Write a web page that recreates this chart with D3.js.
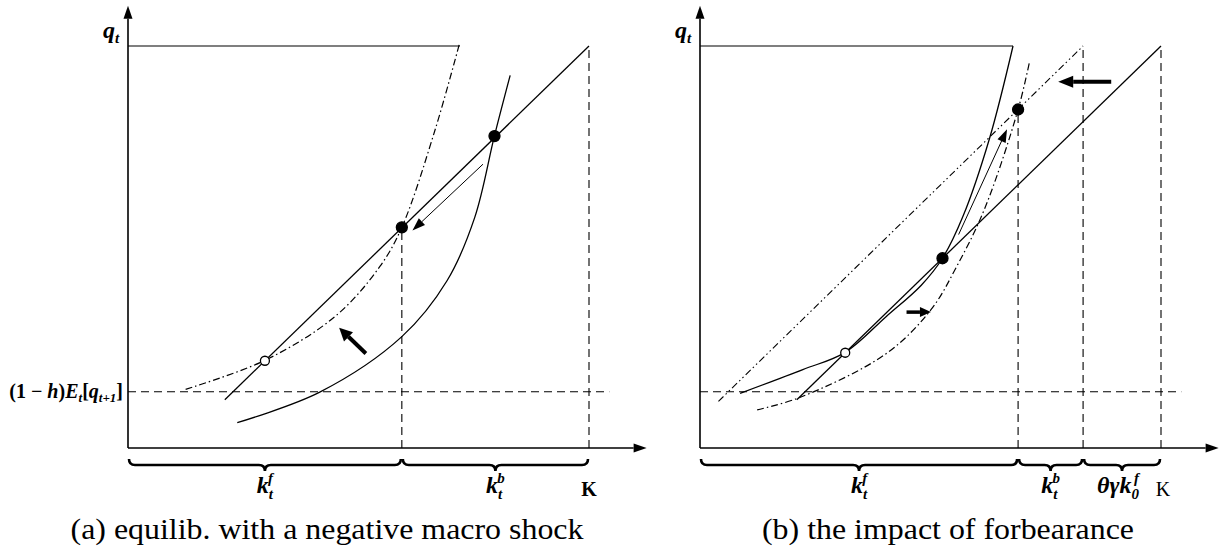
<!DOCTYPE html>
<html>
<head>
<meta charset="utf-8">
<script src="https://cdn.jsdelivr.net/npm/d3@7"></script>
<style>
  body { margin: 0; background: #fff; }
  text { font-family: "Liberation Serif", "Times New Roman", Times, "DejaVu Serif", serif; }
</style>
</head>
<body>
<div id="container"></div>
<script>
// schematic units: capital 0..K (K = 100), price q 0..qTop (qTop = 100)
const K = 100, qTop = 100, xEnd = 112.5, yEnd = 110;
const qFloor = 14;            // (1-h) E_t[q_{t+1}]
const floorEnd = 104.4;       // where the dashed floor line stops

// panel (a): equilibrium with a negative macro shock
const topLineA = [[0, 100], [72, 100]];
const shiftedA = [[12.5, 14.6], [29.7, 21.8], [45.1, 32.9], [54.6, 45.1], [59.4, 54.9], [66.6, 79.1], [72, 101]];
const demandA = [[21, 12], [100, 100]];
const supplyA = [[23.7, 6.3], [41.6, 13.9], [59.4, 27.7], [69.2, 41.6], [75.2, 57.3], [79.5, 77.7], [82.9, 92.7]];
const openA = [[29.7, 21.7]];
const eqA = [[59.4, 54.9], [79.5, 77.6]];
const thinArrowA = [[77.0, 70.6], [61.7, 54.1]];
const thickArrowA = [[51.6, 23.5], [45.8, 29.9]];
const kfA = 59.4;
const bracesA = [[0, kfA], [kfA, K]];

// panel (b): the impact of forbearance
const topLineB = [[0, 100], [67.9, 100]];
const supplyB = [[8.7, 13.6], [22.3, 19.5], [31.5, 23.8], [40.3, 32.6], [48, 40.5], [52.6, 47.2], [57, 57.5], [62.8, 77], [67.9, 100]];
const demandB = [[21, 12], [100, 100]];
const forbearB = [[4, 11.6], [83.1, 100]];
const shiftedB = [[12.4, 9.5], [21.5, 12.5], [40.3, 23.4], [50.1, 34.4], [55.7, 45.2], [61.7, 59.4], [69, 84.2], [71.5, 96.2]];
const openB = [[31.5, 23.7]];
const eqB = [[52.6, 47.2], [69, 84.2]];
const thinArrowB = [[56.1, 53.1], [66.6, 79.3]];
const smallArrowB = [[44.8, 33.8], [50.1, 33.8]];
const bigArrowB = [[89.2, 91.1], [77.7, 91.1]];
const kfB = 69, kbB = 83.1;
const bracesB = [[0, kfB], [kfB, kbB], [kbB, K]];

const width = 1228, height = 550;
const svg = d3.select("#container").append("svg")
    .attr("width", width)
    .attr("height", height)
    .style("background", "#fff");

const x = d3.scaleLinear().domain([0, 100]).range([0, 461]);
const y = d3.scaleLinear().domain([0, 100]).range([402, 0]);

const smooth = d3.line().x(d => x(d[0])).y(d => y(d[1])).curve(d3.curveCatmullRom.alpha(0.5));
const straight = d3.line().x(d => x(d[0])).y(d => y(d[1]));

function path(g, pts, dash, sw, curved) {
    g.append("path")
        .attr("d", (curved ? smooth : straight)(pts))
        .attr("fill", "none")
        .attr("stroke", "#000")
        .attr("stroke-width", sw || 1.2)
        .attr("stroke-dasharray", dash || null);
}

// line with a filled triangular head at the second point (pixel space)
function arrow(g, x1, y1, x2, y2, sw, headLen, headW) {
    const a = Math.atan2(y2 - y1, x2 - x1);
    const bx = x2 - headLen * Math.cos(a), by = y2 - headLen * Math.sin(a);
    g.append("line")
        .attr("x1", x1).attr("y1", y1).attr("x2", bx).attr("y2", by)
        .attr("stroke", "#000").attr("stroke-width", sw);
    const px = -Math.sin(a) * headW / 2, py = Math.cos(a) * headW / 2;
    g.append("path")
        .attr("d", `M${x2},${y2}L${bx + px},${by + py}L${bx - px},${by - py}Z`)
        .attr("fill", "#000");
}

function dataArrow(g, pts, sw, headLen, headW) {
    arrow(g, x(pts[0][0]), y(pts[0][1]), x(pts[1][0]), y(pts[1][1]), sw, headLen, headW);
}

function brace(g, u1, u2) {
    const x1 = x(u1) + 1, x2 = x(u2) - 1, yb = y(0) + 17, h = 6;
    const m = (x1 + x2) / 2;
    g.append("path")
        .attr("d", `M${x1},${yb - h}Q${x1},${yb} ${x1 + h},${yb}L${m - h},${yb}` +
            `Q${m},${yb} ${m},${yb + h}Q${m},${yb} ${m + h},${yb}L${x2 - h},${yb}` +
            `Q${x2},${yb} ${x2},${yb - h}`)
        .attr("fill", "none")
        .attr("stroke", "#000")
        .attr("stroke-width", 2.6);
}

// base symbol with stacked subscript / superscript
function scripted(g, cx, base, sub, sup) {
    const t = g.append("text")
        .attr("x", cx).attr("y", y(0) + 45)
        .attr("text-anchor", "middle")
        .style("font-weight", "bold")
        .style("font-style", "italic")
        .style("font-size", "24px");
    t.append("tspan").text(base);
    t.append("tspan").attr("dy", 6).style("font-size", "15px").text(sub);
    t.append("tspan").attr("dx", -5).attr("dy", -16).style("font-size", "15px").text(sup);
    return t;
}

function dots(g, pts, open) {
    g.selectAll(null).data(pts).join("circle")
        .attr("cx", d => x(d[0])).attr("cy", d => y(d[1]))
        .attr("r", open ? 4.5 : 5.5)
        .attr("fill", open ? "#fff" : "#000")
        .attr("stroke", "#000")
        .attr("stroke-width", 1.3);
}

function axes(g) {
    arrow(g, 0, y(0), x(xEnd), y(0), 1.6, 13, 9);
    arrow(g, 0, y(0), 0, y(yEnd), 1.6, 13, 9);
    const q = g.append("text")
        .attr("x", -25).attr("y", -8)
        .style("font-weight", "bold")
        .style("font-style", "italic")
        .style("font-size", "24px");
    q.append("tspan").text("q");
    q.append("tspan").attr("dy", 5).style("font-size", "15px").text("t");
    path(g, [[0, qFloor], [floorEnd, qFloor]], "8,5", 1.1);
}

function caption(g, cx, str, len) {
    g.append("text")
        .attr("x", cx).attr("y", y(0) + 91)
        .attr("text-anchor", "middle")
        .attr("textLength", len)
        .attr("lengthAdjust", "spacingAndGlyphs")
        .style("font-size", "29px")
        .text(str);
}

const dashDot = "7,3,1.5,3";

// ---------- panel (a)
const ga = svg.append("g").attr("transform", "translate(128,46)");
axes(ga);
path(ga, topLineA, null, 1.2);
path(ga, [[kfA, 0], eqA[0]], "8,5", 1.1);
path(ga, [[K, 0], [K, 100]], "8,5", 1.1);
path(ga, shiftedA, dashDot, 1.2, true);
path(ga, demandA, null, 1.3);
path(ga, supplyA, null, 1.3, true);
dataArrow(ga, thinArrowA, 1, 13, 9);
dataArrow(ga, thickArrowA, 4, 13, 13);
dots(ga, eqA, false);
dots(ga, openA, true);
bracesA.forEach(b => brace(ga, b[0], b[1]));
scripted(ga, x(bracesA[0][0] + bracesA[0][1]) / 2, "k", "t", "f");
scripted(ga, x(bracesA[1][0] + bracesA[1][1]) / 2, "k", "t", "b");
ga.append("text")
    .attr("x", x(K)).attr("y", y(0) + 48)
    .attr("text-anchor", "middle")
    .style("font-weight", "bold")
    .style("font-size", "20px")
    .text("K");
const fl = ga.append("text")
    .attr("x", -5).attr("y", y(qFloor) + 6)
    .attr("text-anchor", "end")
    .style("font-weight", "bold")
    .style("font-size", "20px");
fl.append("tspan").text("(1 − ");
fl.append("tspan").style("font-style", "italic").text("h");
fl.append("tspan").text(")");
fl.append("tspan").style("font-style", "italic").text("E");
fl.append("tspan").attr("dy", 4).style("font-size", "13px").style("font-style", "italic").text("t");
fl.append("tspan").attr("dy", -4).text("[");
fl.append("tspan").style("font-style", "italic").text("q");
fl.append("tspan").attr("dy", 4).style("font-size", "13px").style("font-style", "italic").text("t+1");
fl.append("tspan").attr("dy", -4).text("]");
caption(ga, 199, "(a) equilib. with a negative macro shock", 513);

// ---------- panel (b)
const gb = svg.append("g").attr("transform", "translate(700,46)");
axes(gb);
path(gb, topLineB, null, 1.2);
path(gb, [[kfB, 0], eqB[1]], "8,5", 1.1);
path(gb, [[kbB, 0], [kbB, 100]], "8,5", 1.1);
path(gb, [[K, 0], [K, 100]], "8,5", 1.1);
path(gb, forbearB, "7,3,1.5,3,1.5,3", 1.1);
path(gb, shiftedB, dashDot, 1.2, true);
path(gb, demandB, null, 1.3);
path(gb, supplyB, null, 1.3, true);
dataArrow(gb, thinArrowB, 1, 13, 9);
dataArrow(gb, smallArrowB, 3.5, 11, 10);
dataArrow(gb, bigArrowB, 4, 15, 12);
dots(gb, eqB, false);
dots(gb, openB, true);
bracesB.forEach(b => brace(gb, b[0], b[1]));
scripted(gb, x(bracesB[0][0] + bracesB[0][1]) / 2, "k", "t", "f");
scripted(gb, x(bracesB[1][0] + bracesB[1][1]) / 2, "k", "t", "b");
scripted(gb, x(bracesB[2][0] + bracesB[2][1]) / 2 - 4, "θγk", "0", "f");
gb.append("text")
    .attr("x", x(K) + 2).attr("y", y(0) + 48)
    .attr("text-anchor", "middle")
    .style("font-size", "20px")
    .text("K");
caption(gb, 248, "(b) the impact of forbearance", 372);
</script>
</body>
</html>
